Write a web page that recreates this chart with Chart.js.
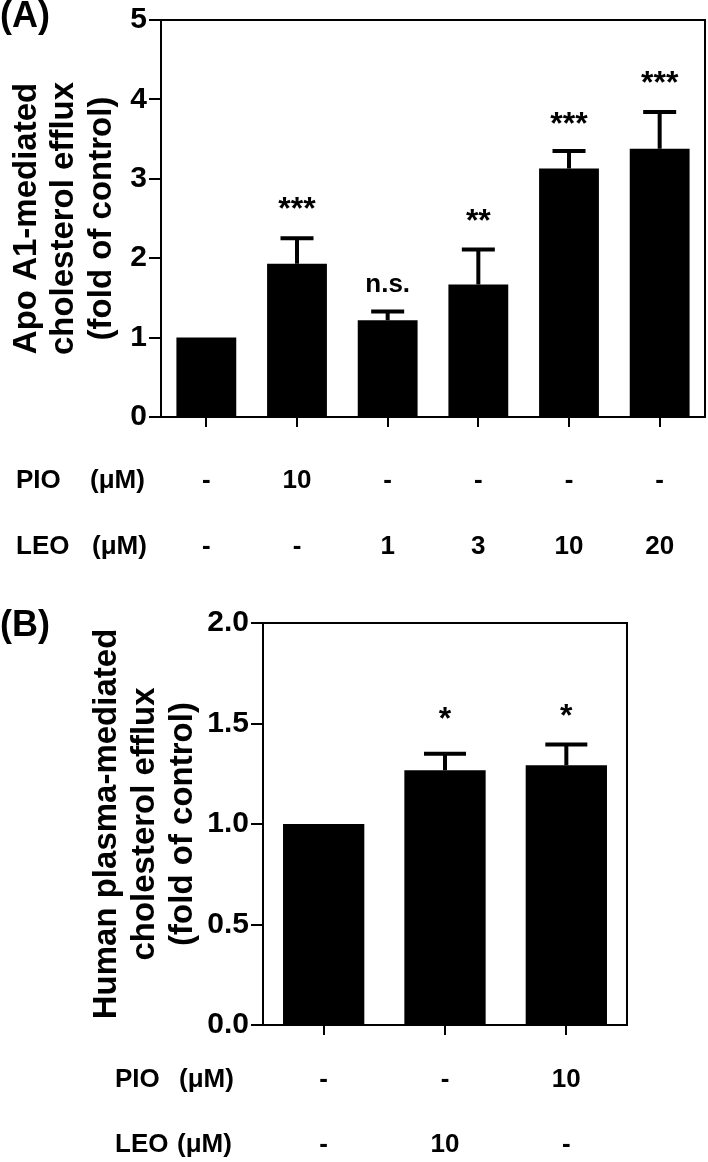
<!DOCTYPE html>
<html lang="en">
<head>
<meta charset="UTF-8">
<title>Cholesterol efflux</title>
<script src="https://cdn.jsdelivr.net/npm/chart.js"></script>
<style>
    html, body { margin: 0; padding: 0; background: #fff; }
    #wrap { position: relative; width: 708px; height: 1162px; }
    canvas { position: absolute; left: 0; }
    #graphA { top: 0; }
    #graphB { top: 590px; }
</style>
</head>
<body>
<div id="wrap">
    <canvas id="graphA" width="708" height="590"></canvas>
    <canvas id="graphB" width="708" height="572"></canvas>
</div>

<script>
    // panel A - Apo A1
    const pioA = ['-', '10', '-', '-', '-', '-'];
    const leoA = ['-', '-', '1', '3', '10', '20'];
    const meanA = [1.0, 1.93, 1.22, 1.67, 3.13, 3.38];
    const semA = [0, 0.32, 0.11, 0.44, 0.22, 0.46];
    const sigA = ['', '***', 'n.s.', '**', '***', '***'];
    const sigPosA = [null, 2.71, 1.665, 2.56, 3.78, 4.30];
    const yTicksA = [0, 1, 2, 3, 4, 5];

    // panel B - human plasma
    const pioB = ['-', '-', '10'];
    const leoB = ['-', '10', '-'];
    const meanB = [1.0, 1.267, 1.292];
    const semB = [0, 0.083, 0.103];
    const sigB = ['', '*', '*'];
    const sigPosB = [null, 1.558, 1.575];
    const yTicksB = [0, 0.5, 1.0, 1.5, 2.0];

    const FONT = "'Liberation Sans', Arial, Helvetica, sans-serif";

    function bold(size) {
        return 'bold ' + size + 'px ' + FONT;
    }

    // erros, asteriscos, moldura e textos fixos
    const extras = {
        id: 'extras',
        afterDatasetsDraw(chart, args, opts) {
            const ctx = chart.ctx;
            const area = chart.chartArea;
            const xs = chart.scales.x;
            const ys = chart.scales.y;
            const mean = chart.data.datasets[0].data;

            ctx.save();
            ctx.strokeStyle = '#000';
            ctx.fillStyle = '#000';

            // top + right frame
            ctx.lineWidth = 2;
            ctx.beginPath();
            ctx.moveTo(area.left, area.top);
            ctx.lineTo(area.right, area.top);
            ctx.lineTo(area.right, area.bottom);
            ctx.stroke();

            // error bars (upper only)
            ctx.lineWidth = 4;
            ctx.lineCap = 'butt';
            for (let i = 0; i < mean.length; i++) {
                if (!opts.sem[i]) continue;
                const x = xs.getPixelForValue(i);
                const y0 = ys.getPixelForValue(mean[i]);
                const y1 = ys.getPixelForValue(mean[i] + opts.sem[i]);
                ctx.beginPath();
                ctx.moveTo(x, y0);
                ctx.lineTo(x, y1);
                ctx.moveTo(x - opts.cap / 2, y1);
                ctx.lineTo(x + opts.cap / 2, y1);
                ctx.stroke();
            }

            // significance marks
            ctx.textAlign = 'center';
            ctx.textBaseline = 'alphabetic';
            for (let i = 0; i < opts.sig.length; i++) {
                if (!opts.sig[i]) continue;
                const x = xs.getPixelForValue(i);
                const y = ys.getPixelForValue(opts.sigPos[i]);
                if (opts.sig[i].indexOf('*') >= 0) {
                    ctx.font = bold(32);
                    ctx.fillText(opts.sig[i], x, y + 0.55 * 32);
                } else {
                    ctx.font = bold(26);
                    ctx.fillText(opts.sig[i], x, y + 0.26 * 26);
                }
            }

            // row headers next to the tick label rows
            const rowTop = area.bottom + opts.tickLen + opts.tickPad;
            ctx.font = bold(26);
            ctx.textAlign = 'left';
            ctx.textBaseline = 'middle';
            opts.rows.forEach(function (r, k) {
                const y = rowTop + opts.rowH * (k + 0.5);
                ctx.fillText(r.name, r.x, y);
                ctx.fillText('(\u03BCM)', r.ux, y);
            });

            // y axis title (3 lines, rotated)
            ctx.font = bold(33);
            ctx.textAlign = 'center';
            ctx.textBaseline = 'alphabetic';
            const cy = (area.top + area.bottom) / 2;
            opts.title.forEach(function (line, k) {
                ctx.save();
                ctx.translate(opts.titleX[k], cy);
                ctx.rotate(-Math.PI / 2);
                ctx.fillText(line, 0, 0);
                ctx.restore();
            });

            // panel letter
            ctx.font = bold(36);
            ctx.textAlign = 'left';
            ctx.fillText(opts.letter, 0, opts.letterY);

            ctx.restore();
        }
    };

    function montarGrafico(cfg) {
        const labels = [];
        for (let i = 0; i < cfg.pio.length; i++) {
            labels.push([cfg.pio[i], cfg.leo[i]]);
        }

        const dados = {
            labels: labels,
            datasets: [{
                data: cfg.mean,
                backgroundColor: '#000',
                borderWidth: 0,
                barPercentage: cfg.barPct,
                categoryPercentage: 1.0
            }]
        };

        const config = {
            type: 'bar',
            data: dados,
            plugins: [extras],
            options: {
                responsive: false,
                animation: false,
                devicePixelRatio: 1,
                layout: { padding: cfg.padding },
                plugins: {
                    legend: { display: false },
                    tooltip: { enabled: false },
                    extras: {
                        sem: cfg.sem,
                        cap: cfg.cap,
                        sig: cfg.sig,
                        sigPos: cfg.sigPos,
                        rows: cfg.rows,
                        rowH: cfg.rowH,
                        tickLen: 10,
                        tickPad: cfg.tickPad,
                        title: cfg.title,
                        titleX: cfg.titleX,
                        letter: cfg.letter,
                        letterY: cfg.letterY
                    }
                },
                scales: {
                    x: {
                        offset: true,
                        grid: {
                            offset: false,
                            drawOnChartArea: false,
                            drawTicks: true,
                            tickLength: 10,
                            color: '#000',
                            lineWidth: 2
                        },
                        border: { display: true, color: '#000', width: 2 },
                        ticks: {
                            color: '#000',
                            padding: cfg.tickPad,
                            maxRotation: 0,
                            autoSkip: false,
                            font: { family: FONT, size: 26, weight: 'bold', lineHeight: cfg.rowH / 26 }
                        },
                        afterFit: function (scale) { scale.height = cfg.xH; }
                    },
                    y: {
                        min: 0,
                        max: cfg.yTicks[cfg.yTicks.length - 1],
                        afterBuildTicks: function (scale) {
                            scale.ticks = cfg.yTicks.map(function (v) { return { value: v }; });
                        },
                        grid: {
                            drawOnChartArea: false,
                            drawTicks: true,
                            tickLength: 12,
                            color: '#000',
                            lineWidth: 2
                        },
                        border: { display: true, color: '#000', width: 2 },
                        ticks: {
                            color: '#000',
                            padding: 2,
                            font: { family: FONT, size: 30, weight: 'bold' },
                            callback: function (v) { return cfg.fmt(v); }
                        },
                        afterFit: function (scale) { scale.width = cfg.yW; }
                    }
                }
            }
        };

        return new Chart(document.getElementById(cfg.id), config);
    }

    montarGrafico({
        id: 'graphA',
        pio: pioA, leo: leoA, mean: meanA, sem: semA,
        sig: sigA, sigPos: sigPosA, yTicks: yTicksA,
        fmt: function (v) { return String(v); },
        barPct: 0.66, cap: 33,
        padding: { left: 0, top: 15, right: 3, bottom: 0 },
        yW: 161, xH: 173,
        tickPad: 21, rowH: 66,
        rows: [{ name: 'PIO', x: 16, ux: 90 }, { name: 'LEO', x: 16, ux: 92 }],
        title: ['Apo A1-mediated', 'cholesterol efflux', '(fold of control)'],
        titleX: [36, 73, 111],
        letter: '(A)', letterY: 27
    });

    montarGrafico({
        id: 'graphB',
        pio: pioB, leo: leoB, mean: meanB, sem: semB,
        sig: sigB, sigPos: sigPosB, yTicks: yTicksB,
        fmt: function (v) { return v.toFixed(1); },
        barPct: 0.67, cap: 42,
        padding: { left: 0, top: 33, right: 81, bottom: 0 },
        yW: 263, xH: 137,
        tickPad: 12, rowH: 65,
        rows: [{ name: 'PIO', x: 115, ux: 179 }, { name: 'LEO', x: 115, ux: 177 }],
        title: ['Human plasma-mediated', 'cholesterol efflux', '(fold of control)'],
        titleX: [116, 154, 192],
        letter: '(B)', letterY: 46
    });
</script>
</body>
</html>
